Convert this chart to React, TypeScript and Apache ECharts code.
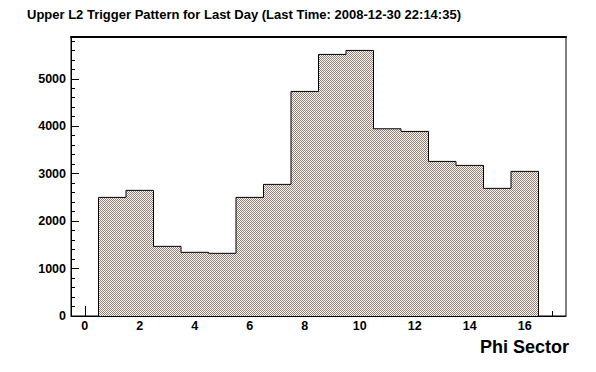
import React, { useEffect, useRef } from 'react';
import * as echarts from 'echarts';

const TITLE = 'Upper L2 Trigger Pattern for Last Day (Last Time: 2008-12-30 22:14:35)';
const X_TITLE = 'Phi Sector';

// Phi sector bin centres and their counts
const sectors = [1, 2, 3, 4, 5, 6, 7, 8, 9, 10, 11, 12, 13, 14, 15, 16];
const counts = [2500, 2648, 1468, 1342, 1321, 2500, 2774, 4733, 5513, 5597, 3946, 3890, 3258, 3174, 2690, 3048];

// axis ticks
const xMajorTicks = [0, 2, 4, 6, 8, 10, 12, 14, 16];
const xMinorTicks = [0.5, 1, 1.5, 2.5, 3, 3.5, 4.5, 5, 5.5, 6.5, 7, 7.5, 8.5, 9, 9.5, 10.5, 11, 11.5, 12.5, 13, 13.5, 14.5, 15, 15.5, 16.5, 17];
const yMajorTicks = [0, 1000, 2000, 3000, 4000, 5000];
const yMinorTicks = [200, 400, 600, 800, 1200, 1400, 1600, 1800, 2200, 2400, 2600, 2800, 3200, 3400, 3600, 3800, 4200, 4400, 4600, 4800, 5200, 5400, 5600, 5800];

const X_MIN = -0.5;
const X_MAX = 17.5;
const Y_MIN = 0;
const Y_MAX = 5880;
const BIN_WIDTH = 1;

const FONT = '"Liberation Sans", Arial, Helvetica, sans-serif';

function makePattern() {
  const c = document.createElement('canvas');
  c.width = 2;
  c.height = 2;
  const ctx = c.getContext('2d')!;
  ctx.fillStyle = '#ffffff';
  ctx.fillRect(0, 0, 2, 2);
  ctx.fillStyle = 'rgb(160,124,110)';
  ctx.fillRect(0, 0, 1, 1);
  ctx.fillRect(1, 1, 1, 1);
  return c.toDataURL();
}

export default function App() {
  const ref = useRef<HTMLDivElement>(null);

  useEffect(() => {
    if (!ref.current) return;
    const chart = echarts.init(ref.current, undefined, { renderer: 'svg' });

    // histogram outline points built from the bins
    const outline: number[][] = [[sectors[0] - BIN_WIDTH / 2, 0]];
    sectors.forEach((s, i) => {
      outline.push([s - BIN_WIDTH / 2, counts[i]]);
      outline.push([s + BIN_WIDTH / 2, counts[i]]);
    });
    outline.push([sectors[sectors.length - 1] + BIN_WIDTH / 2, 0]);

    const pattern = {
      image: makePattern(),
      repeat: 'repeat',
      imageWidth: 2,
      imageHeight: 2,
    };

    const labelStyle = {
      fontFamily: FONT,
      fontWeight: 'bold' as const,
      fontSize: 12.5,
      color: '#000',
      formatter: (v: number) => String(v),
    };

    chart.setOption({
      animation: false,
      backgroundColor: '#fff',
      grid: {
        left: 71,
        right: 30,
        top: 37,
        bottom: 56,
        show: true,
        borderColor: '#000',
        borderWidth: 1,
        backgroundColor: 'transparent',
      },
      xAxis: [
        {
          type: 'value',
          min: X_MIN,
          max: X_MAX,
          position: 'bottom',
          splitLine: { show: false },
          axisLine: { show: true, onZero: false, lineStyle: { color: '#000', width: 1 } },
          axisTick: { show: true, inside: true, length: 10, customValues: xMajorTicks, lineStyle: { color: '#000' } },
          axisLabel: { show: true, margin: 3, customValues: xMajorTicks, ...labelStyle },
        },
        {
          type: 'value',
          min: X_MIN,
          max: X_MAX,
          position: 'bottom',
          splitLine: { show: false },
          axisLine: { show: false, onZero: false },
          axisTick: { show: true, inside: true, length: 5, customValues: xMinorTicks, lineStyle: { color: '#000' } },
          axisLabel: { show: false },
        },
        {
          type: 'value',
          min: X_MIN,
          max: X_MAX,
          position: 'top',
          splitLine: { show: false },
          axisLine: { show: true, onZero: false, lineStyle: { color: '#000', width: 2 } },
          axisTick: { show: false },
          axisLabel: { show: false },
        },
      ],
      yAxis: [
        {
          type: 'value',
          min: Y_MIN,
          max: Y_MAX,
          position: 'left',
          splitLine: { show: false },
          axisLine: { show: true, onZero: false, lineStyle: { color: '#000', width: 1 } },
          axisTick: { show: true, inside: true, length: 8, customValues: yMajorTicks, lineStyle: { color: '#000' } },
          axisLabel: { show: true, margin: 5, customValues: yMajorTicks, ...labelStyle },
        },
        {
          type: 'value',
          min: Y_MIN,
          max: Y_MAX,
          position: 'left',
          splitLine: { show: false },
          axisLine: { show: false, onZero: false },
          axisTick: { show: true, inside: true, length: 4, customValues: yMinorTicks, lineStyle: { color: '#000' } },
          axisLabel: { show: false },
        },
      ],
      series: [
        {
          type: 'line',
          xAxisIndex: 0,
          yAxisIndex: 0,
          data: outline,
          showSymbol: false,
          symbol: 'none',
          lineStyle: { color: '#000', width: 1 },
          areaStyle: { color: pattern as any, opacity: 1, origin: 'start' },
          z: 1,
        },
      ],
      graphic: [
        {
          type: 'text',
          left: 27,
          top: 8,
          style: { text: TITLE, font: `bold 13px ${FONT}`, fill: '#000' },
        },
        {
          type: 'text',
          right: 27,
          top: 338,
          style: { text: X_TITLE, font: `bold 18px ${FONT}`, fill: '#000' },
        },
      ],
    });

    return () => chart.dispose();
  }, []);

  return <div ref={ref} style={{ width: 596, height: 372, position: 'absolute', left: 0, top: 0 }} />;
}
